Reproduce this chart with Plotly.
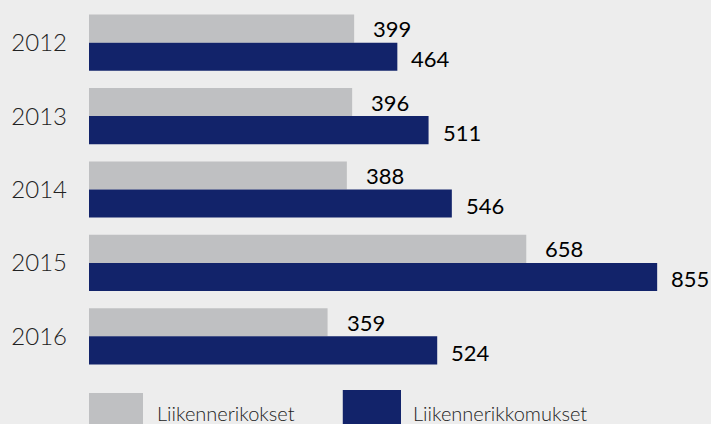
import plotly.graph_objects as go

# yearly counts
years = ['2012', '2013', '2014', '2015', '2016']
rikokset = [399, 396, 388, 658, 359]
rikkomukset = [464, 511, 546, 855, 524]

series_names = ['Liikennerikokset', 'Liikennerikkomukset']
grey = '#bfc0c2'
navy = '#12236a'
bg = '#ededed'

fig = go.Figure()
fig.add_trace(go.Bar(y=years, x=rikokset, orientation='h', name=series_names[0],
                     marker=dict(color=grey, line=dict(width=0))))
fig.add_trace(go.Bar(y=years, x=rikkomukset, orientation='h', name=series_names[1],
                     marker=dict(color=navy, line=dict(width=0))))

# value labels next to the bar ends (category axis -> index positions)
for i, v in enumerate(rikokset):
    fig.add_annotation(x=v, y=i, text=str(v), showarrow=False, xanchor='left',
                       xshift=17, yshift=14, font=dict(size=22, color='#000'))
for i, v in enumerate(rikkomukset):
    fig.add_annotation(x=v, y=i, text=str(v), showarrow=False, xanchor='left',
                       xshift=12, yshift=-16, font=dict(size=22, color='#000'))

# legend drawn by hand, big square swatches
fig.add_shape(type='rect', xref='paper', yref='paper', x0=0, x1=0.0868, y0=-0.0545, y1=-0.16,
              fillcolor=grey, line=dict(width=0))
fig.add_shape(type='rect', xref='paper', yref='paper', x0=0.408, x1=0.5016, y0=-0.0463, y1=-0.16,
              fillcolor=navy, line=dict(width=0))
fig.add_annotation(xref='paper', yref='paper', x=0.106, y=-0.108, text=series_names[0],
                   showarrow=False, xanchor='left', yanchor='middle',
                   font=dict(size=20, color='#222', weight=300))
fig.add_annotation(xref='paper', yref='paper', x=0.518, y=-0.108, text=series_names[1],
                   showarrow=False, xanchor='left', yanchor='middle',
                   font=dict(size=20, color='#222', weight=300))

fig.update_layout(
    width=711, height=424,
    margin=dict(l=89, r=0, t=6, b=51),
    paper_bgcolor=bg, plot_bgcolor=bg,
    barmode='group', bargap=0.235, bargroupgap=0,
    showlegend=False,
    font=dict(family='Lato', color='#222'),
)
fig.update_xaxes(range=[0, 936], showticklabels=False, showgrid=False,
                 zeroline=False, showline=False, ticks='')
fig.update_yaxes(type='category', range=[4.5, -0.5], categoryorder='array', categoryarray=years,
                 showgrid=False, zeroline=False, showline=False, ticks='',
                 ticklabelstandoff=21, tickfont=dict(size=24, color='#222', weight=300))

fig.write_html("out.html", config={'displayModeBar': False},
               post_script="document.body.style.margin='0';")
